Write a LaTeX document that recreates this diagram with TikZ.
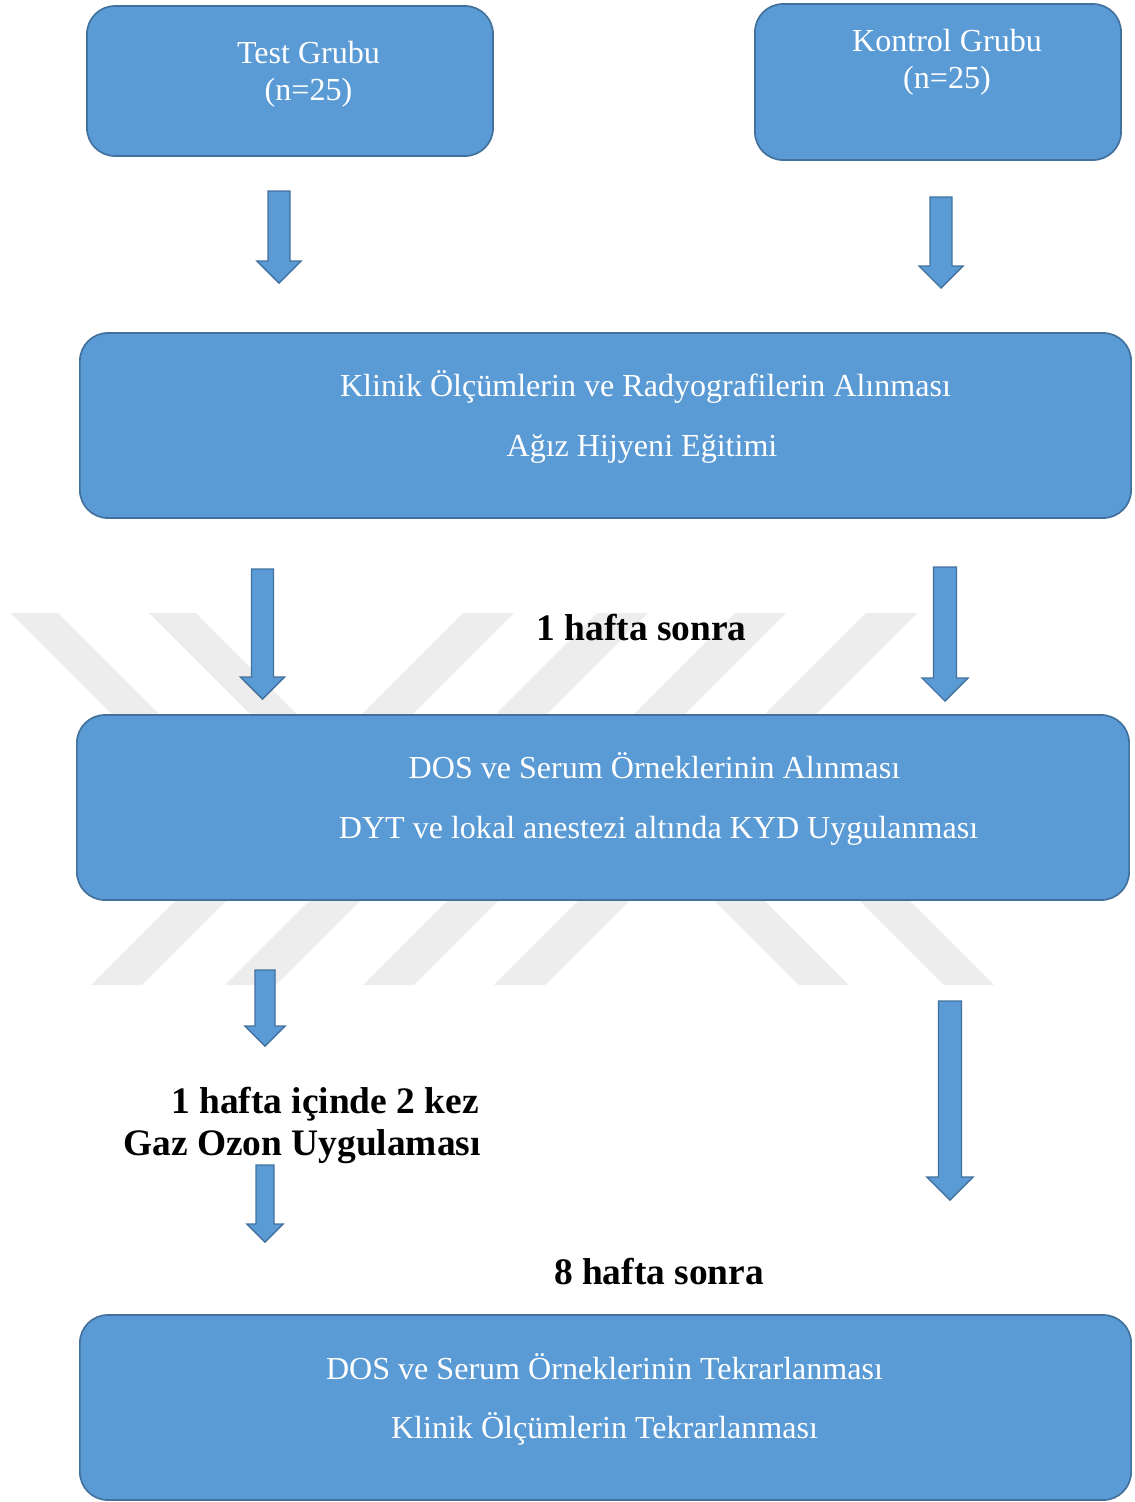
\documentclass[tikz,border=0pt]{standalone}
\usepackage{fontspec}
\setmainfont{Liberation Serif}
\usepackage{tikz}
\usetikzlibrary{calc}

\definecolor{boxblue}{RGB}{91,155,213}
\definecolor{boxline}{RGB}{65,113,156}
\definecolor{wmgray}{RGB}{237,237,237}

% block arrow pointing down: top, tip, half shaft width
\newcommand{\blockdown}[3]{%
	\filldraw[flowarrow] ($(#1)+(-#3,0)$) -- ($(#1)+(#3,0)$) -- ($(#2)+(#3,-2*#3)$) -- ($(#2)+(2*#3,-2*#3)$) -- (#2) -- ($(#2)+(-2*#3,-2*#3)$) -- ($(#2)+(-#3,-2*#3)$) -- cycle;}

\begin{document}
\begin{tikzpicture}[x=0.025cm, y=-0.025cm,
	flowbox/.style={draw=boxline, line width=1.2pt, fill=boxblue, rounded corners=0.7cm},
	boxtext/.style={text=white, anchor=base, inner sep=0pt, font=\fontsize{22.8}{26.3}\selectfont},
	steplabel/.style={anchor=base, inner sep=0pt, font=\bfseries\fontsize{26.6}{30}\selectfont},
	flowarrow/.style={draw=boxline, line width=1pt, fill=boxblue, line join=miter},
	stripe/.style={fill=wmgray}]
	\useasboundingbox (0,0) rectangle (1134,1502);

	% watermark
	\foreach \b in {91,225,363,494}
		\fill[stripe] (\b,985) -- (\b+51,985) -- (\b+51+372,613) -- (\b+372,613) -- cycle;
	\foreach \t in {11,149}
		\fill[stripe] (\t,613) -- (\t+47,613) -- (\t+47+190,803) -- (\t+190,803) -- cycle;
	\foreach \b in {799,944}
		\fill[stripe] (\b,985) -- (\b+50,985) -- (\b+50-190,795) -- (\b-190,795) -- cycle;

	% boxes
	\node[flowbox, minimum width=10.15cm, minimum height=3.75cm] (test) at (290,81) {};
	\node[flowbox, minimum width=9.15cm, minimum height=3.9cm] (kontrol) at (938,82) {};
	\node[flowbox, minimum width=26.275cm, minimum height=4.625cm] (klinik) at (605.5,425.5) {};
	\node[flowbox, minimum width=26.3cm, minimum height=4.625cm] (dos) at (603,807.5) {};
	\node[flowbox, minimum width=26.275cm, minimum height=4.625cm] (tekrar) at (605.5,1407.5) {};

	\node[boxtext] (testad) at (308.5,63) {Test Grubu};
	\node[boxtext] (testn) at (308.5,100) {(n=25)};
	\node[boxtext] (kontrolad) at (947,51) {Kontrol Grubu};
	\node[boxtext] (kontroln) at (947,88) {(n=25)};
	\node[boxtext] (klinik1) at (645.5,396) {Klinik Ölçümlerin ve Radyografilerin Alınması};
	\node[boxtext] (klinik2) at (642,456) {Ağız Hijyeni Eğitimi};
	\node[boxtext] (dos1) at (654.5,778) {DOS ve Serum Örneklerinin Alınması};
	\node[boxtext] (dos2) at (658.5,838) {DYT ve lokal anestezi altında KYD Uygulanması};
	\node[boxtext] (tekrar1) at (604.5,1379) {DOS ve Serum Örneklerinin Tekrarlanması};
	\node[boxtext] (tekrar2) at (604.5,1438) {Klinik Ölçümlerin Tekrarlanması};

	% time labels
	\node[steplabel] (hafta1) at (641.5,640) {1 hafta sonra};
	\node[steplabel, anchor=base east] (ozon1) at (479,1113) {1 hafta içinde 2 kez};
	\node[steplabel, anchor=base east] (ozon2) at (481,1155) {Gaz Ozon Uygulaması};
	\node[steplabel] (hafta8) at (659,1284) {8 hafta sonra};

	% arrows
	\coordinate (a1top) at (279,191); \coordinate (a1tip) at (279,283);
	\coordinate (a2top) at (941,197); \coordinate (a2tip) at (941,288);
	\coordinate (a3top) at (262.5,569); \coordinate (a3tip) at (262.5,699);
	\coordinate (a4top) at (945,567); \coordinate (a4tip) at (945,701);
	\coordinate (a5top) at (265,970); \coordinate (a5tip) at (265,1046);
	\coordinate (a6top) at (265,1165); \coordinate (a6tip) at (265,1242);
	\coordinate (a7top) at (950,1001); \coordinate (a7tip) at (950,1200);
	\blockdown{a1top}{a1tip}{11}
	\blockdown{a2top}{a2tip}{11}
	\blockdown{a3top}{a3tip}{11}
	\blockdown{a4top}{a4tip}{11.5}
	\blockdown{a5top}{a5tip}{10}
	\blockdown{a6top}{a6tip}{9}
	\blockdown{a7top}{a7tip}{11.5}
\end{tikzpicture}
\end{document}
